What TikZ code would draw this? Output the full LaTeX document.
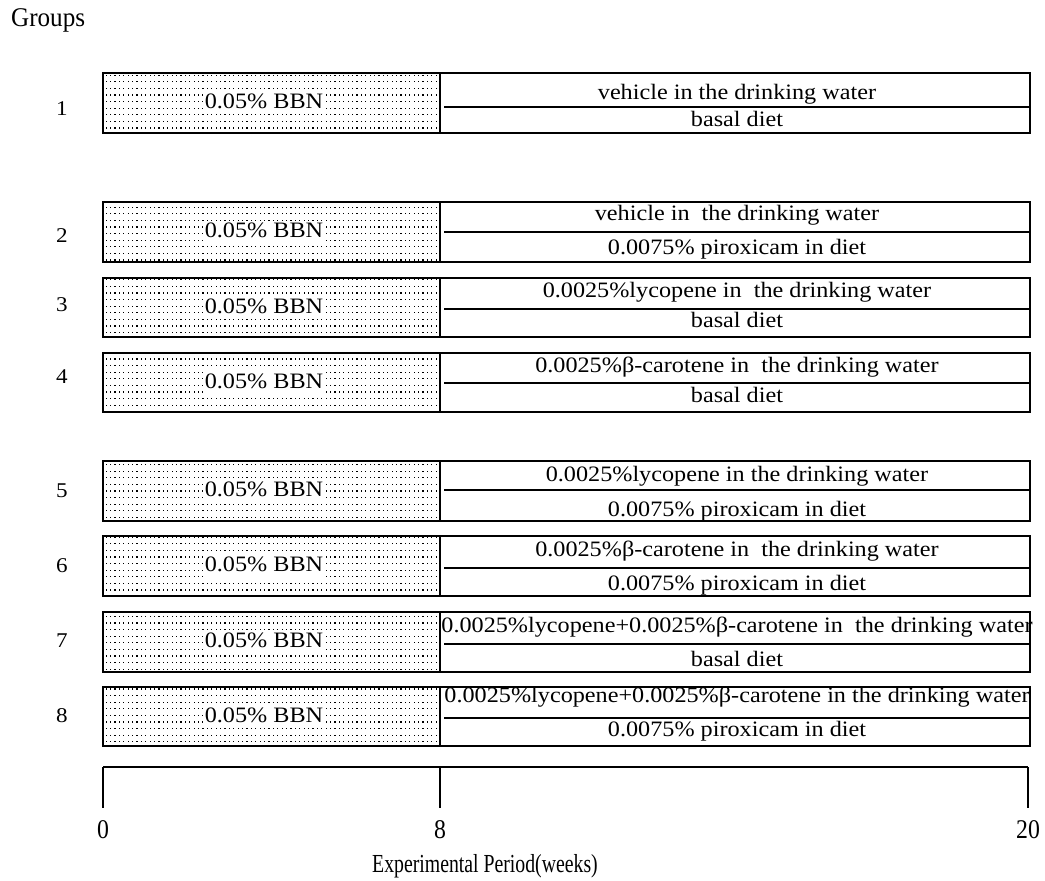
\documentclass[tikz,border=0pt]{standalone}
\usepackage{fontspec}
\setmainfont{Liberation Serif}[FakeStretch=1.1]
\newfontfamily\axisfont{Liberation Serif}[FakeStretch=0.88]
\newfontfamily\titlefont{Liberation Serif}[FakeStretch=0.76]
\newfontfamily\headfont{Liberation Serif}[FakeStretch=0.93]
\usetikzlibrary{patterns}
\pgfdeclarepatternformonly{bbndots}{\pgfqpoint{-0.5pt}{-0.5pt}}{\pgfqpoint{4.9pt}{7.1pt}}{\pgfqpoint{4.4pt}{6.6pt}}{%
  \pgfpathrectangle{\pgfqpoint{0pt}{0pt}}{\pgfqpoint{1.15pt}{1.15pt}}\pgfusepath{fill}}
\begin{document}
\begin{tikzpicture}[x=1pt,y=-1pt,
  frame/.style={draw, line width=1.8pt, inner sep=0pt, outer sep=0pt, rectangle},
  bbnbox/.style={frame, pattern=bbndots},
  lbl/.style={font=\fontsize{22}{26}\selectfont, inner sep=0pt, text height=16pt, text depth=5pt},
  bbnlbl/.style={lbl, fill=white, inner xsep=1.5pt, inner ysep=0pt},
  grplbl/.style={font=\fontsize{21}{25}\selectfont, inner sep=0pt},
  headlbl/.style={font=\headfont\fontsize{27}{32}\selectfont, inner sep=0pt},
  axnum/.style={font=\axisfont\fontsize{27}{32}\selectfont, inner sep=0pt},
  divline/.style={line width=1.5pt},
  axisline/.style={line width=2pt},
  tickline/.style={line width=1.4pt},
  axtitle/.style={font=\titlefont\fontsize{26}{30}\selectfont, inner sep=0pt}]
\useasboundingbox (0,0) rectangle (1045,881);

\node[headlbl, anchor=west] (groups) at (11,20) {Groups};

\foreach \n/\ra/\rb/\dv/\ta/\tb/\ly/\txa/\txb in {
  1/73/133/107/94/121/109/{vehicle in the drinking water}/{basal diet},
  2/202/262/232/215/249/236/{vehicle in~ the drinking water}/{0.0075\% piroxicam in diet},
  3/278/337/309/292/322/305/{0.0025\%lycopene in~ the drinking water}/{basal diet},
  4/353/412/383/367/397/377/{0.0025\%β-carotene in~ the drinking water}/{basal diet},
  5/461/521/490/476/511/491/{0.0025\%lycopene in the drinking water}/{0.0075\% piroxicam in diet},
  6/536/596/568/551/585/566/{0.0025\%β-carotene in~ the drinking water}/{0.0075\% piroxicam in diet},
  7/612/672/644/627/661/641/{0.0025\%lycopene+0.0025\%β-carotene in~ the drinking water}/{basal diet},
  8/687/746/718/697/731/716/{0.0025\%lycopene+0.0025\%β-carotene in the drinking water}/{0.0075\% piroxicam in diet}}
{
  \pgfmathsetmacro{\h}{\rb-\ra}
  \pgfmathsetmacro{\m}{(\ra+\rb)/2}
  \node[bbnbox, minimum width=337pt, minimum height=\h pt] (L\n) at (271.5,\m) {};
  \node[frame, minimum width=590pt, minimum height=\h pt] (R\n) at (735,\m) {};
  \node[bbnlbl] (B\n) at (264,\m) {0.05\% BBN};
  \coordinate (D\n) at (444,\dv);
  \draw[divline] (D\n) -- (D\n -| R\n.east);
  \node[lbl] (T\n) at (737,\ta) {\txa};
  \node[lbl] (U\n) at (737,\tb) {\txb};
  \node[grplbl] (G\n) at (62,\ly) {\n};
}

\coordinate (a0) at (103,767);
\coordinate (a8) at (440,767);
\coordinate (a20) at (1028,767);
\coordinate (b0) at (103,808);
\coordinate (b8) at (440,808);
\coordinate (b20) at (1028,808);
\draw[axisline] (a0) -- (a20);
\draw[tickline] (a0) -- (b0);
\draw[tickline] (a8) -- (b8);
\draw[tickline] (a20) -- (b20);
\node[axnum] (n0) at (103,830) {0};
\node[axnum] (n8) at (440,830) {8};
\node[axnum] (n20) at (1028,830) {20};
\node[axtitle] (xt) at (485,866) {Experimental Period(weeks)};
\end{tikzpicture}
\end{document}
